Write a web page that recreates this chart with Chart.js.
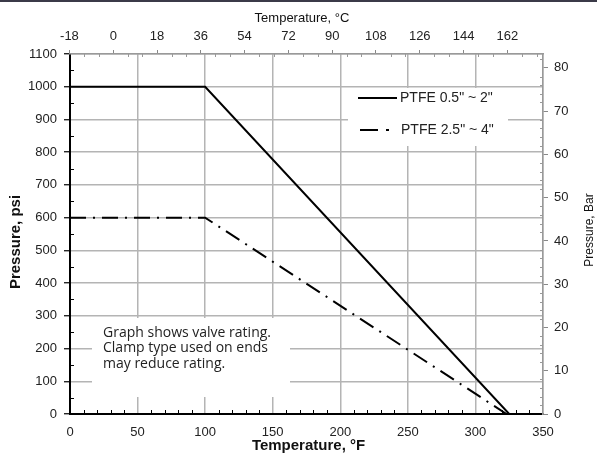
<!DOCTYPE html>
<html>
<head>
<meta charset="utf-8">
<script src="https://cdn.jsdelivr.net/npm/chart.js@4/dist/chart.umd.min.js"></script>
<style>
html,body{margin:0;padding:0;background:#fff;}
#wrap{width:597px;height:455px;position:relative;}
</style>
</head>
<body>
<div id="wrap"><canvas id="c" width="597" height="455"></canvas></div>
<script>
// ---- data ----
const seriesNames = ['PTFE 0.5" ~ 2"', 'PTFE 2.5" ~ 4"'];
const tempSmallF = [0, 100, 325];
const psiSmall = [1000, 1000, 0];
const tempLargeF = [0, 100, 323];
const psiLarge = [600, 600, 0];
const fahrenheitTicks = [0, 50, 100, 150, 200, 250, 300, 350];
const psiTicks = [0, 100, 200, 300, 400, 500, 600, 700, 800, 900, 1000, 1100];
const celsiusTicks = [-18, 0, 18, 36, 54, 72, 90, 108, 126, 144, 162];
const barTicks = [0, 10, 20, 30, 40, 50, 60, 70, 80];
const noteLines = ['Graph shows valve rating.', 'Clamp type used on ends', 'may reduce rating.'];
const titleBottom = 'Temperature, °F';
const titleTop = 'Temperature, °C';
const titleLeft = 'Pressure, psi';
const titleRight = 'Pressure, Bar';

const FONT = "'Liberation Sans', Arial, sans-serif";
const tickFont = {family: FONT, size: 13};
const tickColor = '#222';
const plain = v => String(v);

const overlay = {
  id: 'overlay',
  beforeDatasetsDraw(chart) {
    const c = chart.ctx;
    c.save();
    c.fillStyle = '#fff';
    c.fillRect(348, 88, 160, 58);   // legend box
    c.fillRect(92, 318, 198, 79);   // note box
    c.restore();
  },
  afterDraw(chart) {
    const c = chart.ctx;
    const sx = chart.scales.x, sy = chart.scales.y, sx2 = chart.scales.x2, sy2 = chart.scales.y2;
    const a = chart.chartArea;
    c.save();
    // top dark strip
    c.fillStyle = '#3b3a48';
    c.fillRect(0, 0, 597, 2);
    // minor ticks
    c.lineWidth = 1;
    c.strokeStyle = '#000';
    c.beginPath();
    for (let v = 10; v < 350; v += 10) {
      if (v % 50 === 0) continue;
      const px = Math.round(sx.getPixelForValue(v)) + 0.5;
      c.moveTo(px, a.bottom); c.lineTo(px, a.bottom - 4);
    }
    for (let v = 50; v < 1100; v += 100) {
      const py = Math.round(sy.getPixelForValue(v)) + 0.5;
      c.moveTo(a.left, py); c.lineTo(a.left + 4, py);
    }
    c.stroke();
    c.strokeStyle = '#999';
    c.beginPath();
    for (let v = -12; v < 176; v += 6) {
      if ((v + 18) % 18 === 0) continue;
      const px = Math.round(sx2.getPixelForValue(v)) + 0.5;
      c.moveTo(px, a.top); c.lineTo(px, a.top + 3);
    }
    for (let v = 2; v < 83; v += 2) {
      if (v % 10 === 0) continue;
      const py = Math.round(sy2.getPixelForValue(v)) + 0.5;
      c.moveTo(a.right, py); c.lineTo(a.right - 3, py);
    }
    c.stroke();

    // axis titles
    c.fillStyle = '#111';
    c.textAlign = 'center';
    c.textBaseline = 'middle';
    c.font = 'bold 15px ' + FONT;
    c.fillText(titleBottom, (a.left + a.right) / 2 + 2, 446);
    c.save();
    c.translate(16, 242);
    c.rotate(-Math.PI / 2);
    c.fillText(titleLeft, 0, 0);
    c.restore();
    c.font = '13px ' + FONT;
    c.fillText(titleTop, 302, 18);
    c.save();
    c.translate(590, 230);
    c.rotate(-Math.PI / 2);
    c.font = '12px ' + FONT;
    c.fillText(titleRight, 0, 0);
    c.restore();

    // legend
    c.font = '14px ' + FONT;
    c.textAlign = 'left';
    c.fillStyle = '#222';
    c.strokeStyle = '#000';
    c.lineWidth = 2;
    c.beginPath(); c.moveTo(358, 98); c.lineTo(397, 98); c.stroke();
    c.fillText(seriesNames[0], 400, 98);
    c.beginPath(); c.moveTo(360, 130); c.lineTo(378, 130); c.stroke();
    c.beginPath(); c.moveTo(386, 130); c.lineTo(389, 130); c.stroke();
    c.fillText(seriesNames[1], 401, 130);

    // note
    c.font = "14px 'Open Sans', sans-serif";
    c.fillStyle = '#222';
    noteLines.forEach((t, i) => c.fillText(t, 103, 333 + i * 15.5));
    c.restore();
  }
};

new Chart(document.getElementById('c'), {
  type: 'line',
  data: {
    datasets: [
      {
        label: seriesNames[0],
        data: tempSmallF.map((x, i) => ({x, y: psiSmall[i]})),
        borderColor: '#000', borderWidth: 2, pointRadius: 0, tension: 0,
        xAxisID: 'x', yAxisID: 'y'
      },
      {
        label: seriesNames[1],
        data: tempLargeF.map((x, i) => ({x, y: psiLarge[i]})),
        borderColor: '#000', borderWidth: 2, pointRadius: 0, tension: 0,
        borderDash: [16, 7, 2, 7],
        xAxisID: 'x', yAxisID: 'y'
      }
    ]
  },
  options: {
    responsive: false,
    animation: false,
    devicePixelRatio: 1,
    layout: {padding: 0},
    plugins: {legend: {display: false}, tooltip: {enabled: false}},
    scales: {
      x: {
        type: 'linear', position: 'bottom', min: 0, max: 350,
        afterBuildTicks(s) { s.ticks = fahrenheitTicks.map(v => ({value: v})); },
        ticks: {font: tickFont, color: tickColor, padding: 11, maxRotation: 0, callback: plain},
        grid: {color: '#b4b4b4', lineWidth: 1.5, drawTicks: false},
        border: {color: '#000', width: 2},
        afterFit(s) { s.height = 41; }
      },
      y: {
        type: 'linear', position: 'left', min: 0, max: 1100,
        afterBuildTicks(s) { s.ticks = psiTicks.map(v => ({value: v})); },
        ticks: {font: tickFont, color: tickColor, padding: 7, callback: plain},
        grid: {color: '#b4b4b4', lineWidth: 1.5, tickLength: 6, tickColor: '#000', tickWidth: 1.2},
        border: {color: '#000', width: 2},
        afterFit(s) { s.width = 70; }
      },
      x2: {
        type: 'linear', position: 'top', min: (0 - 32) / 1.8, max: (350 - 32) / 1.8,
        afterBuildTicks(s) { s.ticks = celsiusTicks.map(v => ({value: v})); },
        ticks: {font: tickFont, color: tickColor, padding: 6, maxRotation: 0, callback: plain},
        grid: {drawOnChartArea: false, tickLength: 4, color: '#888'},
        border: {color: '#999', width: 1.5},
        afterFit(s) { s.height = 54; }
      },
      y2: {
        type: 'linear', position: 'right', min: 0, max: 83.2,
        afterBuildTicks(s) { s.ticks = barTicks.map(v => ({value: v})); },
        ticks: {font: tickFont, color: tickColor, padding: 6, callback: plain},
        grid: {drawOnChartArea: false, tickLength: 5, color: '#888'},
        border: {color: '#999', width: 1.5},
        afterFit(s) { s.width = 54; }
      }
    }
  },
  plugins: [overlay]
});
</script>
</body>
</html>
